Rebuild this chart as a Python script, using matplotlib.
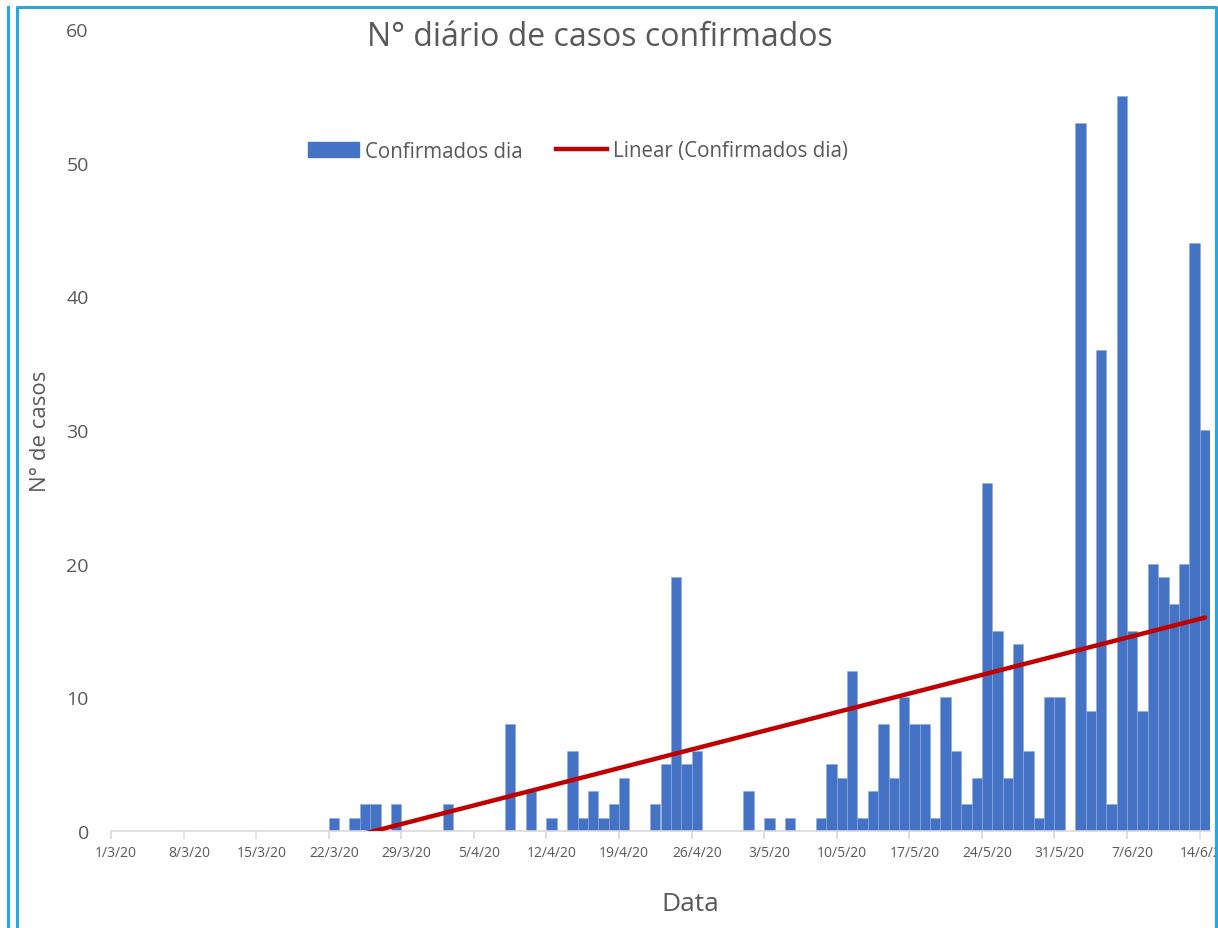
import numpy as np
import matplotlib
matplotlib.use("Agg")
import matplotlib.pyplot as plt
from matplotlib.lines import Line2D
from matplotlib.patches import Patch

# ---- data ----
tick_labels = ["1/3/20", "8/3/20", "15/3/20", "22/3/20", "29/3/20", "5/4/20", "12/4/20",
               "19/4/20", "26/4/20", "3/5/20", "10/5/20", "17/5/20", "24/5/20", "31/5/20",
               "7/6/20", "14/6/20"]
# daily confirmed cases, 1/3/20 .. 14/6/20 (106 days)
casos = [0]*21 + [
    1, 0, 1, 2, 2, 0, 2, 0, 0, 0,      # 22/3 - 31/3
    0, 2, 0, 0, 0, 0, 0, 8, 0, 3,      # 1/4 - 10/4
    0, 1, 0, 6, 1, 3, 1, 2, 4, 0,      # 11/4 - 20/4
    0, 2, 5, 19, 5, 6, 0, 0, 0, 0,     # 21/4 - 30/4
    3, 0, 1, 0, 1, 0, 0, 1, 5, 4,      # 1/5 - 10/5
    12, 1, 3, 8, 4, 10, 8, 8, 1, 10,   # 11/5 - 20/5
    6, 2, 4, 26, 15, 4, 14, 6, 1, 10,  # 21/5 - 30/5
    10, 0, 53, 9, 36, 2, 55, 15, 9, 20,  # 31/5 - 9/6
    19, 17, 20, 44, 30                 # 10/6 - 14/6
]

BLUE = "#4472C4"
RED = "#C00000"
GRAY = "#595959"
FONT = "Open Sans"

plt.rcParams['font.family'] = [FONT, 'DejaVu Sans']

W, H = 1218, 929
fig = plt.figure(figsize=(W/100, H/100), dpi=100)
ax_l, ax_b = 111/W, 1 - 832/H
ax_w, ax_h = (1210-111)/W, (832-30)/H
ax = fig.add_axes([ax_l, ax_b, ax_w, ax_h])

n = len(casos)
days = np.arange(n)
ax.bar(days + 0.5, casos, width=1.0, color=BLUE, edgecolor="#8FAADC", linewidth=0.4,
       label="Confirmados dia", zorder=2)

# linear trendline
xc = days + 0.5
m, b = np.polyfit(xc, casos, 1)
ax.plot([xc[0], xc[-1]], [m*xc[0] + b, m*xc[-1] + b], color=RED, lw=3.2,
        solid_capstyle="round", label="Linear (Confirmados dia)", zorder=3)

ax.set_xlim(0, n)
ax.set_ylim(0, 60)

# axes styling
for s in ["left", "right", "top"]:
    ax.spines[s].set_visible(False)
ax.spines["bottom"].set_color("#D9D9D9")
ax.spines["bottom"].set_linewidth(1.2)

ax.set_yticks(range(0, 61, 10))
ax.tick_params(axis="y", length=0, pad=16, labelsize=14, labelcolor=GRAY)

major = np.arange(0, n, 7)
ax.set_xticks(major)
ax.set_xticklabels([])
ax.tick_params(axis="x", which="major", length=6, color="#D9D9D9", width=1.2)
ax.set_xticks(major + 0.5, minor=True)
ax.set_xticklabels(tick_labels, minor=True)
ax.tick_params(axis="x", which="minor", length=0, pad=10, labelsize=10, labelcolor=GRAY)

ax.set_ylabel("N° de casos", fontsize=16, color=GRAY)
ax.yaxis.set_label_coords((40 - 111) / (1210 - 111), (832 - 431) / (832 - 30))
ax.set_xlabel("Data", fontsize=19, color=GRAY)
ax.xaxis.set_label_coords((690 - 111) / (1210 - 111), (832 - 905) / (832 - 30))
ax.xaxis.label.set_va("center")
ax.yaxis.label.set_va("center")

fig.text(600/W, 1 - 37/H, "N° diário de casos confirmados", ha="center", va="center",
         fontsize=23, color=GRAY)

handles = [Patch(facecolor=BLUE, edgecolor=BLUE),
           Line2D([0], [0], color=RED, lw=3.2)]
fig.legend(handles, ["Confirmados dia", "Linear (Confirmados dia)"],
           loc="center", bbox_to_anchor=(578/W, 1 - 152/H), ncol=2, frameon=False,
           fontsize=14.8, labelcolor=GRAY, handlelength=2.5, handleheight=0.7,
           columnspacing=1.6, handletextpad=0.3)

# outer frames
BORDER = "#29A8E0"
fig.add_artist(Line2D([8/W, 8/W], [0, 1 - 8/H], color=BORDER, lw=2.2, transform=fig.transFigure))
fig.add_artist(Line2D([17/W, 17/W, 1216/W, 1216/W], [0, 1 - 8/H, 1 - 8/H, 0],
                      color=BORDER, lw=2.2, transform=fig.transFigure))

fig.savefig("out.png", dpi=100)
